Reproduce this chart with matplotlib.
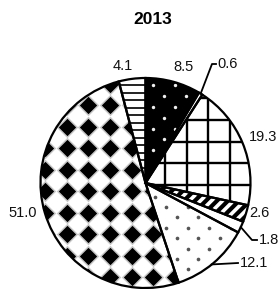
import numpy as np
import matplotlib
matplotlib.use("Agg")
import matplotlib.pyplot as plt

plt.rcParams['font.family'] = ['Liberation Sans', 'DejaVu Sans']

# data
title = "2013"
shares = [8.5, 0.6, 19.3, 2.6, 1.8, 12.1, 51.0, 4.1]
labels = ["8.5", "0.6", "19.3", "2.6", "1.8", "12.1", "51.0", "4.1"]

##############################################################################
# layout (pixels of the output image)
W, H, DPI = 279, 289, 100
CX, CY, R = 145.5, 183.0, 105.0


def px(x, y):
    return (x - CX) / R, (CY - y) / R


fig = plt.figure(figsize=(W / DPI, H / DPI), dpi=DPI)
ax = fig.add_axes([0, 0, 1, 1])

faces = ['black', 'white', 'white', 'white', 'white', 'white', 'white', 'white']
wedges, _ = ax.pie(shares, startangle=90, counterclock=False,
                   colors=faces, wedgeprops=dict(linewidth=0))
ax.pie(shares, startangle=90, counterclock=False,
       wedgeprops=dict(fill=False, edgecolor='black', linewidth=1.6, zorder=5))

x0, y0 = px(0, 0)
x1, y1 = px(W, H)
ax.set_xlim(x0, x1)
ax.set_ylim(y1, y0)
ax.set_aspect('auto')
ax.axis('off')

##############################################################################
# fill patterns, clipped to their wedge
k = np.arange(-12, 13)

# 8.5 : white dots on black
pts = []
for m in range(-20, 21):
    for kk in k:
        pts.append(px(164 + 21.7 * kk - 10.85 * (m % 2), 96 + 10.85 * m))
pts = np.array(pts)
sc = ax.scatter(pts[:, 0], pts[:, 1], s=6, c='#eeeeee', linewidths=0, zorder=2)
sc.set_clip_path(wedges[0])

# 19.3 : square grid
step = 21.7 / R
gx = px(165, 0)[0] + step * k
gy = px(0, 120)[1] + step * k
lv = ax.vlines(gx, -2, 2, colors='black', linewidth=1.7, zorder=2)
lh = ax.hlines(gy, -2, 2, colors='black', linewidth=1.7, zorder=2)
lv.set_clip_path(wedges[2])
lh.set_clip_path(wedges[2])

# 2.6 : thick diagonal stripes
for c in np.arange(-4, 4, 0.105):
    ln, = ax.plot([-2, 2], [-2 + c, 2 + c], color='black', lw=3.0, zorder=2)
    ln.set_clip_path(wedges[3])

# 12.1 : dark dots on white
pts = []
for m in range(-30, 31):
    for kk in k:
        pts.append(px(176.7 + 21.7 * kk - 10.85 * (m % 2), 217.3 + 10.4 * m))
pts = np.array(pts)
sc = ax.scatter(pts[:, 0], pts[:, 1], s=7, c='#555555', linewidths=0, zorder=2)
sc.set_clip_path(wedges[5])

# 51.0 : black diamonds with a soft rim
pts = []
for m in range(-12, 13):
    for kk in k:
        pts.append(px(88.3 + 21.6 * kk, 105 + 21.5 * m))
pts = np.array(pts)
halo = ax.scatter(pts[:, 0], pts[:, 1], s=120, marker='D', c='#c8c8c8',
                  linewidths=0, zorder=2)
halo.set_clip_path(wedges[6])
sc = ax.scatter(pts[:, 0], pts[:, 1], s=78, marker='D', c='black',
                linewidths=0, zorder=2)
sc.set_clip_path(wedges[6])

# 4.1 : horizontal lines
hy = [px(0, 85 + 7.5 * j)[1] for j in range(-5, 40)]
lh = ax.hlines(hy, -2, 2, colors='#222222', linewidth=1.4, zorder=2)
lh.set_clip_path(wedges[7])

##############################################################################
# labels
lab_pos = [(183, 67), (217, 64), (263, 137), (259, 213),
           (259, 240), (240, 263), (23, 213), (123, 66)]
lab_ha = ['center', 'left', 'center', 'center',
          'left', 'left', 'center', 'center']
leader_end = {1: [(212, 64), (216, 64)],
              4: [(252, 240), (257, 240)],
              5: [(238, 263)]}

for i, w in enumerate(wedges):
    tx, ty = px(*lab_pos[i])
    ax.text(tx, ty, labels[i], ha=lab_ha[i], va='center', fontsize=10.5,
            color='#111111')
    if i in leader_end:
        mid = np.deg2rad((w.theta1 + w.theta2) / 2.0)
        if i == 5:
            mid -= np.deg2rad(1.0)
        xs = [np.cos(mid)]
        ys = [np.sin(mid)]
        for p in leader_end[i]:
            xs.append(px(*p)[0])
            ys.append(px(*p)[1])
        ax.plot(xs, ys, color='black', lw=1.3, zorder=6)

fig.text(152.5 / W, 1 - 19.0 / H, title, ha='center', va='center',
         fontsize=12.5, fontweight='bold')

fig.savefig('out.png', dpi=DPI)
